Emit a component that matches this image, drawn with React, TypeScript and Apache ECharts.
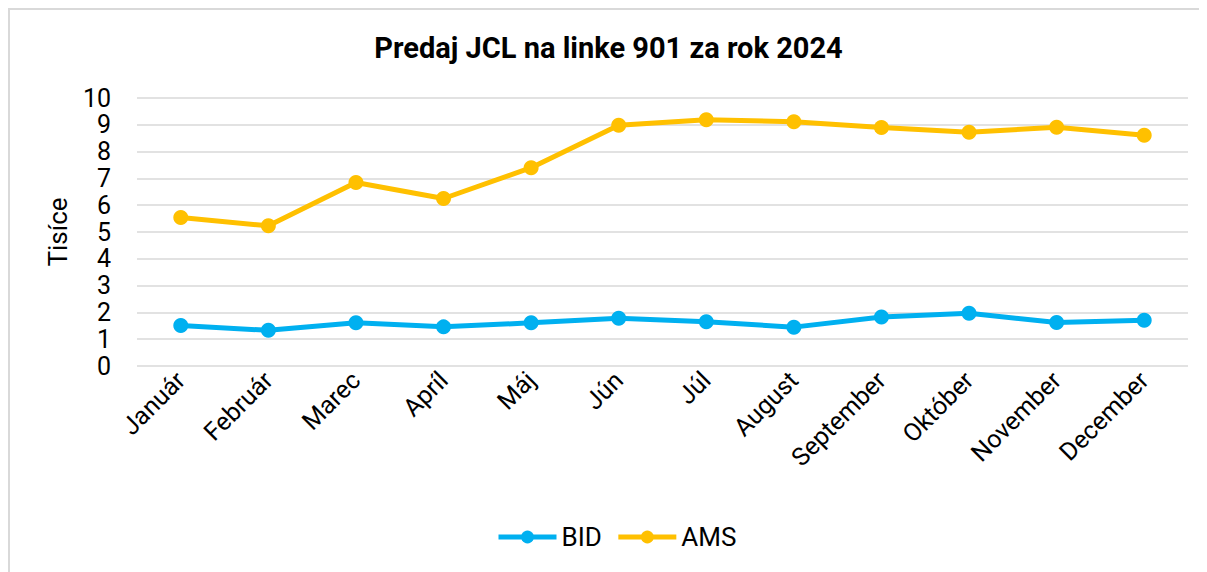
import React, { useEffect, useRef } from "react";
import * as echarts from "echarts";

const categories = ["Január", "Február", "Marec", "Apríl", "Máj", "Jún", "Júl", "August", "September", "Október", "November", "December"];
const bidValues = [1.51, 1.33, 1.61, 1.46, 1.61, 1.78, 1.65, 1.45, 1.83, 1.97, 1.62, 1.71];
const amsValues = [5.54, 5.23, 6.85, 6.25, 7.4, 8.98, 9.19, 9.11, 8.9, 8.72, 8.91, 8.61];
const seriesNames = ["BID", "AMS"];
const titleText = "Predaj JCL na linke 901 za rok 2024";
const yAxisName = "Tisíce";

export default function App() {
  const ref = useRef<HTMLDivElement>(null);
  useEffect(() => {
    if (!ref.current) return;
    const chart = echarts.init(ref.current, null, { renderer: "svg" });
    const font = "Roboto, 'Noto Sans', sans-serif";
    chart.setOption({
      animation: false,
      backgroundColor: "#fff",
      textStyle: { fontFamily: font },
      title: {
        text: titleText,
        left: "center",
        top: 18,
        textStyle: { fontFamily: font, fontSize: 29, fontWeight: "bold", color: "#000" },
      },
      legend: {
        data: seriesNames,
        bottom: 17,
        left: 481,
        itemWidth: 58,
        itemHeight: 16,
        itemGap: 14,
        lineStyle: { width: 5 },
        textStyle: { fontFamily: font, fontSize: 26, color: "#000" },
      },
      grid: { left: 127, right: 19, top: 88, bottom: 206, containLabel: false },
      xAxis: {
        type: "category",
        data: categories,
        boundaryGap: true,
        axisLine: { show: false },
        axisTick: { show: false },
        axisLabel: {
          rotate: 45,
          interval: 0,
          margin: 10,
          fontFamily: font,
          fontSize: 25,
          color: "#000",
        },
      },
      yAxis: {
        type: "value",
        min: 0,
        max: 10,
        interval: 1,
        name: yAxisName,
        nameLocation: "middle",
        nameGap: 66,
        nameRotate: 90,
        nameTextStyle: { fontFamily: font, fontSize: 26, color: "#000" },
        axisLine: { show: false },
        axisTick: { show: false },
        axisLabel: { fontFamily: font, fontSize: 25, color: "#000", margin: 26 },
        splitLine: { lineStyle: { color: "#d9d9d9", width: 1.5 } },
      },
      series: [
        {
          name: seriesNames[0],
          type: "line",
          data: bidValues,
          symbol: "circle",
          symbolSize: 15,
          lineStyle: { width: 5, color: "#00B0F0" },
          itemStyle: { color: "#00B0F0" },
        },
        {
          name: seriesNames[1],
          type: "line",
          data: amsValues,
          symbol: "circle",
          symbolSize: 15,
          lineStyle: { width: 5, color: "#FFC000" },
          itemStyle: { color: "#FFC000" },
        },
      ],
    });
    return () => chart.dispose();
  }, []);
  return (
    <div
      style={{
        width: 1197,
        height: 562,
        borderTop: "2px solid #d9d9d9",
        borderLeft: "2px solid #d9d9d9",
        overflow: "hidden",
      }}
    >
      <div ref={ref} style={{ width: 1197, height: 562 }} />
    </div>
  );
}
